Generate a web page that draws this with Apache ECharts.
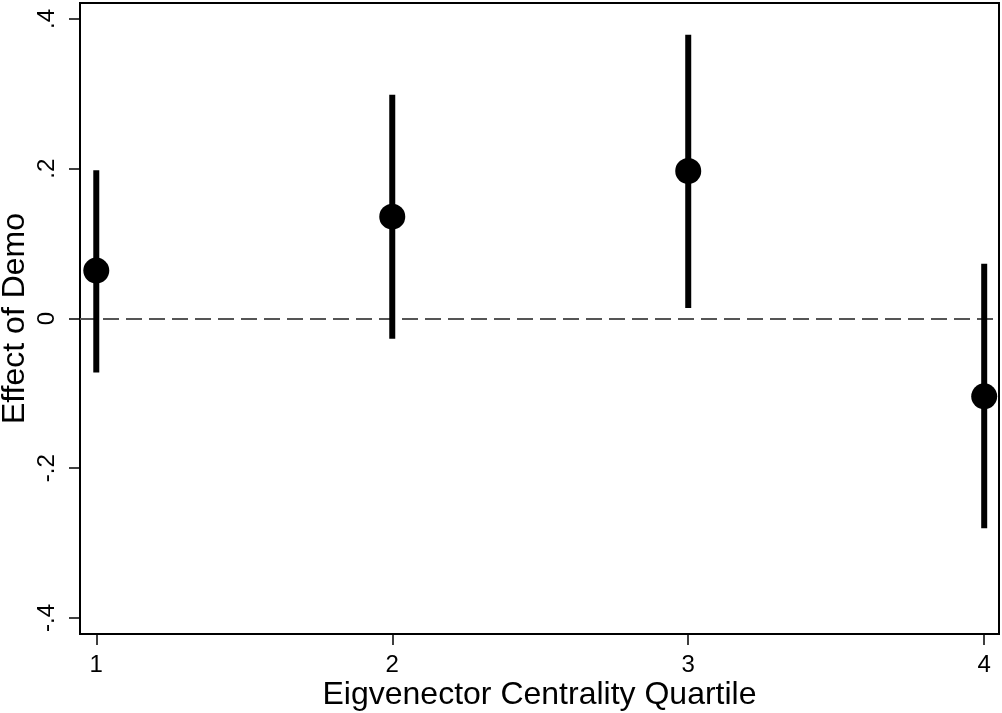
<!DOCTYPE html>
<html>
<head>
<meta charset="utf-8">
<script src="https://cdn.jsdelivr.net/npm/echarts@6/dist/echarts.min.js"></script>
<style>
html,body{margin:0;padding:0;background:#fff;}
#chart{width:1002px;height:713px;}
</style>
</head>
<body>
<div id="chart"></div>
<script>
var quartiles = [1, 2, 3, 4];
var estimates = [0.064, 0.136, 0.197, -0.104];
var lowerCI = [-0.072, -0.027, 0.014, -0.280];
var upperCI = [0.198, 0.299, 0.379, 0.073];
var xTicks = [1, 2, 3, 4];
var yTicks = [-0.4, -0.2, 0, 0.2, 0.4];
var yTickLabels = ['-.4', '-.2', '0', '.2', '.4'];

var font = '"Liberation Sans", Arial, Helvetica, sans-serif';
var chart = echarts.init(document.getElementById('chart'));

var pointData = quartiles.map(function (q, i) { return [q, estimates[i]]; });
var ciData = quartiles.map(function (q, i) { return [q, lowerCI[i], upperCI[i]]; });

chart.setOption({
  animation: false,
  backgroundColor: '#fff',
  grid: {
    left: 80, right: 3, top: 3, bottom: 79,
    containLabel: false, outerBoundsMode: 'none',
    show: true, borderColor: '#000', borderWidth: 2, backgroundColor: '#fff'
  },
  xAxis: {
    type: 'value', min: 0.945, max: 4.05,
    name: 'Eigvenector Centrality Quartile',
    nameLocation: 'middle', nameGap: 45, nameMoveOverlap: false,
    nameTextStyle: { fontFamily: font, fontSize: 32, color: '#000' },
    axisLine: { show: true, onZero: false, lineStyle: { color: '#000', width: 2 } },
    axisTick: { show: true, length: 11, customValues: xTicks, lineStyle: { color: '#000', width: 1.5 } },
    axisLabel: { customValues: xTicks, margin: 19, fontFamily: font, fontSize: 24, color: '#000' },
    splitLine: { show: false }
  },
  yAxis: {
    type: 'value', min: -0.4214, max: 0.4214,
    name: 'Effect of Demo',
    nameLocation: 'middle', nameGap: 49, nameMoveOverlap: false,
    nameTextStyle: { fontFamily: font, fontSize: 32, color: '#000' },
    axisLine: { show: true, onZero: false, lineStyle: { color: '#000', width: 2 } },
    axisTick: { show: true, length: 11, customValues: yTicks, lineStyle: { color: '#000', width: 1.5 } },
    axisLabel: {
      customValues: yTicks, rotate: 90, margin: 21,
      fontFamily: font, fontSize: 24, color: '#000',
      formatter: function (v) {
        var i = yTicks.findIndex(function (t) { return Math.abs(t - v) < 1e-9; });
        return i >= 0 ? yTickLabels[i] : '';
      }
    },
    splitLine: { show: false }
  },
  series: [
    {
      type: 'custom',
      z: 3,
      data: ciData,
      renderItem: function (params, api) {
        var x = api.value(0);
        var p1 = api.coord([x, api.value(1)]);
        var p2 = api.coord([x, api.value(2)]);
        return {
          type: 'line',
          shape: { x1: p1[0], y1: p1[1], x2: p2[0], y2: p2[1] },
          style: { stroke: '#000', lineWidth: 6, lineCap: 'butt' }
        };
      },
      markLine: {
        silent: true,
        symbol: ['none', 'none'],
        label: { show: false },
        z: 1,
        lineStyle: { color: '#555', width: 2, type: [16, 7] },
        data: [{ yAxis: 0 }]
      }
    },
    {
      type: 'scatter',
      z: 4,
      data: pointData,
      symbol: 'circle',
      symbolSize: 26,
      itemStyle: { color: '#000', opacity: 1 }
    }
  ]
});
</script>
</body>
</html>
